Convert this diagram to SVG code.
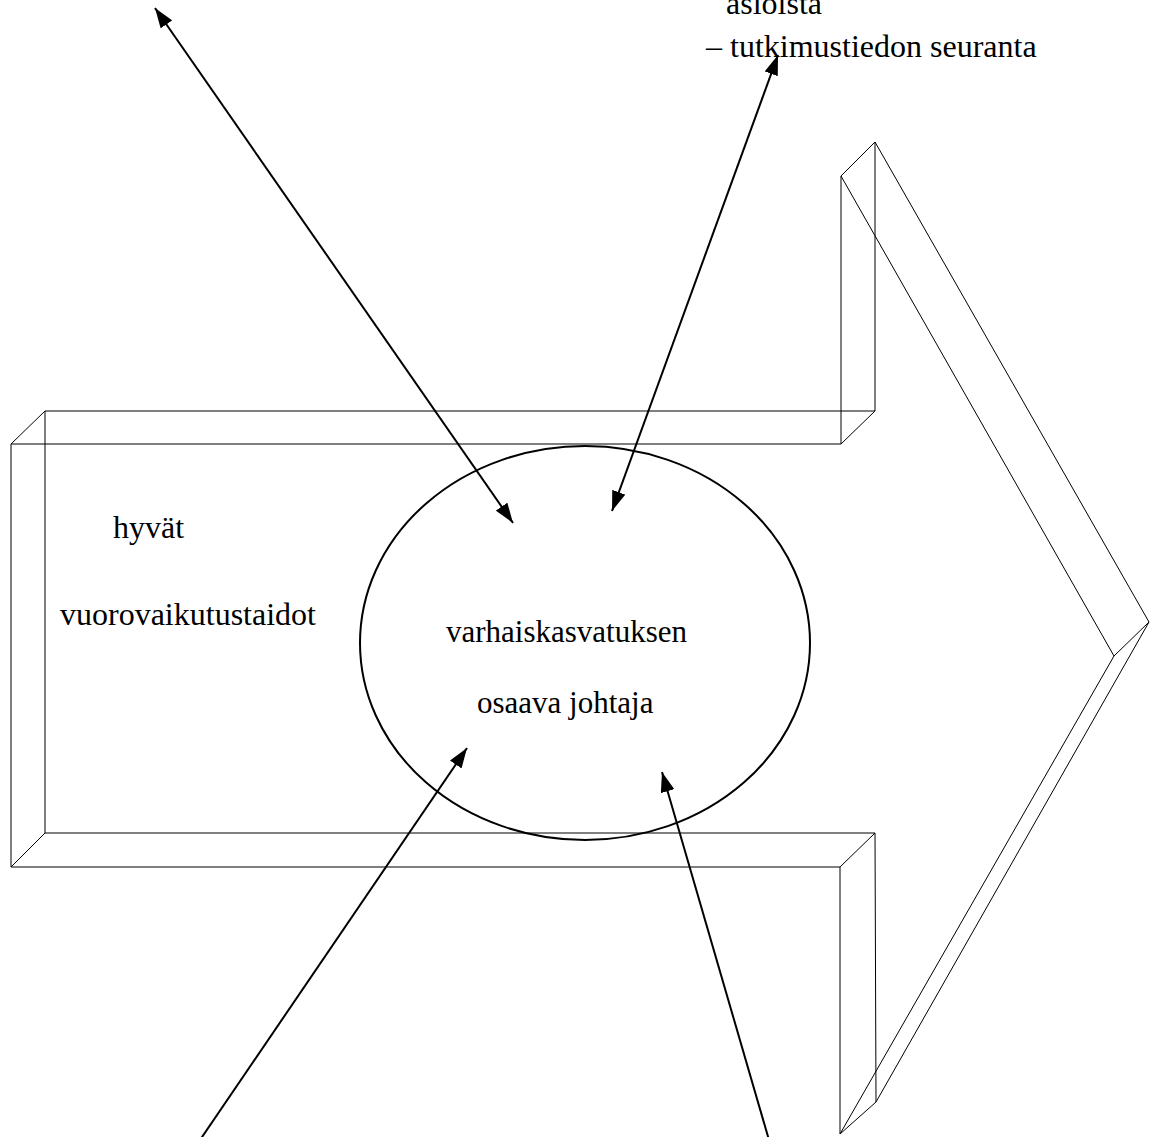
<svg xmlns="http://www.w3.org/2000/svg" width="1150" height="1137" viewBox="0 0 1150 1137">
<defs>
<style>
.shape{fill:none;stroke:#000;stroke-width:1}
.conn{fill:none;stroke:#000;stroke-width:2}
.t{font-family:"Liberation Serif","Times New Roman",serif;font-size:32px;fill:#000}
.c{font-size:31px}
</style>
<marker id="ah" viewBox="0 0 20 14" refX="20" refY="7" markerWidth="20" markerHeight="14" markerUnits="userSpaceOnUse" orient="auto-start-reverse">
<path d="M0,0 L20,7 L0,14 Z" fill="#000"/>
</marker>
</defs>
<rect width="1150" height="1137" fill="#fff"/>
<g id="arrow-shape">
<path class="shape" d="M11,444 L841,444 L841,176 L1114,656 L840,1134 L840,867 L11,867 Z"/>
<path class="shape" d="M45,411 L875,411 L875,142 L1149,622 L876,1102 L875,833 L45,833 Z"/>
<path class="shape" d="M11,444 L45,411 M841,444 L875,411 M841,176 L875,142 M1114,656 L1149,622 M840,1134 L876,1102 M840,867 L875,833 M11,867 L45,833"/>
</g>
<g id="center">
<ellipse cx="585" cy="643" rx="225" ry="197" fill="none" stroke="#000" stroke-width="2"/>
<text class="t c" x="446" y="642">varhaiskasvatuksen</text>
<text class="t c" x="477" y="713">osaava johtaja</text>
</g>
<g id="left-label">
<text class="t" x="113" y="538">hyvät</text>
<text class="t" x="60" y="625">vuorovaikutustaidot</text>
</g>
<g id="top-right-label">
<text class="t" x="726" y="14">asioista</text>
<text class="t" x="706" y="57">– tutkimustiedon seuranta</text>
</g>
<g id="connectors">
<line class="conn" x1="513" y1="523" x2="155" y2="8" marker-start="url(#ah)" marker-end="url(#ah)"/>
<line class="conn" x1="612" y1="511" x2="778" y2="55" marker-start="url(#ah)" marker-end="url(#ah)"/>
<line class="conn" x1="200" y1="1140" x2="467" y2="748" marker-end="url(#ah)"/>
<line class="conn" x1="769" y1="1140" x2="662" y2="772" marker-end="url(#ah)"/>
</g>
</svg>
